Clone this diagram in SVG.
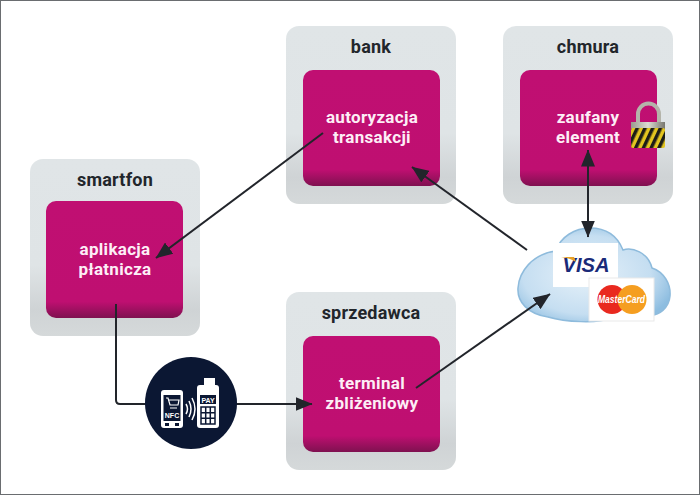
<svg xmlns="http://www.w3.org/2000/svg" width="700" height="495" viewBox="0 0 700 495">
<style>
.box{fill:url(#gb)}
.inner{fill:url(#gm)}
.t{font-family:Roboto,"Liberation Sans",sans-serif;font-weight:700;text-anchor:middle}
.h{font-size:18px;fill:#22262b;letter-spacing:.2px}
.w{font-size:17px;fill:#fdeef6;letter-spacing:.3px}
.c{fill:none;stroke:#22252b;stroke-width:2}
.ic{fill:#fff}
</style>
<defs>
<linearGradient id="gb" x1="0" y1="0" x2="0" y2="1"><stop offset="0" stop-color="#e0e5e7"/><stop offset=".6" stop-color="#dfe4e6"/><stop offset=".85" stop-color="#cfd3d5"/><stop offset="1" stop-color="#d5d9da"/></linearGradient>
<linearGradient id="gm" x1="0" y1="0" x2="0" y2="1"><stop offset="0" stop-color="#c00f72"/><stop offset=".86" stop-color="#bf0f71"/><stop offset="1" stop-color="#7f1150"/></linearGradient>
<radialGradient id="gc" cx=".45" cy=".5" r=".6"><stop offset="0" stop-color="#e6f1f9"/><stop offset=".7" stop-color="#c5def1"/><stop offset="1" stop-color="#8dbde0"/></radialGradient>
<linearGradient id="gl" x1="0" y1="0" x2="1" y2="0"><stop offset="0" stop-color="#9a9a8e"/><stop offset=".5" stop-color="#dcdcd2"/><stop offset="1" stop-color="#77776f"/></linearGradient>
<marker id="a" viewBox="0 0 17 14" refX="16.500" refY="7" markerWidth="17" markerHeight="14" markerUnits="userSpaceOnUse" orient="auto-start-reverse"><path d="M0 0L17 7L0 14z" fill="#22252b"/></marker>
<pattern id="st" width="7" height="7" patternUnits="userSpaceOnUse" patternTransform="rotate(25)"><rect width="7" height="7" fill="#e3c51f"/><rect width="3.500" height="7" fill="#1d1d18"/></pattern>
</defs>
<rect width="700" height="495" fill="#fff"/>
<rect x=".5" y=".5" width="699" height="494" fill="none" stroke="#6a6d70"/>

<g id="smartfon"><rect class="box" x="30" y="159" width="170" height="177" rx="13"/><rect class="inner" x="46" y="201" width="137" height="117" rx="10"/><text class="t h" x="115" y="186">smartfon</text><text class="t w" x="115" y="255">aplikacja</text><text class="t w" x="115" y="275">płatnicza</text></g>
<g id="bank"><rect class="box" x="286" y="26" width="170" height="178" rx="13"/><rect class="inner" x="303" y="70" width="137" height="116" rx="10"/><text class="t h" x="371" y="53">bank</text><text class="t w" x="372" y="123">autoryzacja</text><text class="t w" x="372" y="143">transakcji</text></g>
<g id="chmura"><rect class="box" x="503" y="26" width="170" height="178" rx="13"/><rect class="inner" x="520" y="70" width="137" height="116" rx="10"/><text class="t h" x="588" y="53">chmura</text><text class="t w" x="588" y="123">zaufany</text><text class="t w" x="588" y="143">element</text>
<g id="lock"><path d="M638 124v-10a10.500 10.500 0 0 1 21 0v10" fill="none" stroke="#b4b4aa" stroke-width="4"/><rect x="631" y="122" width="34" height="8" fill="url(#gl)"/><rect x="631" y="128" width="34" height="20" rx="2" fill="url(#st)"/></g></g>
<g id="sprzedawca"><rect class="box" x="286" y="292" width="170" height="178" rx="13"/><rect class="inner" x="303" y="336" width="137" height="116" rx="10"/><text class="t h" x="371" y="319">sprzedawca</text><text class="t w" x="372" y="389">terminal</text><text class="t w" x="372" y="409">zbliżeniowy</text></g>

<g id="cloud"><path d="M548 317C528 314 517 302 518 288C519 272 532 254 556 251C560 237 575 228 590 228C605 228 617 235 623 250C632 247 648 252 652 268C664 272 671 284 670 296C669 309 658 315 652 315L610 318C598 324 565 322 548 317z" fill="url(#gc)" stroke="#8ebbdc" stroke-width="1.500"/>
<g id="visa"><rect x="553" y="243" width="65" height="44" fill="#fff"/><text x="586" y="272" font-family="Liberation Sans,sans-serif" font-size="21" font-weight="700" font-style="italic" fill="#1a2a78" text-anchor="middle" textLength="47" lengthAdjust="spacingAndGlyphs">VISA</text><path d="M561 257L574 257L576 262Q570 258 561 257z" fill="#e7a128"/></g>
<g id="mastercard"><rect x="589" y="278" width="65" height="43" fill="#fff" stroke="#e9e9e9"/><circle cx="612" cy="299.500" r="14.500" fill="#e9291f"/><circle cx="632" cy="299.500" r="14.500" fill="#f59e20"/><text x="621.500" y="303" font-family="Liberation Sans,sans-serif" font-size="10" font-weight="700" font-style="italic" fill="#fff" text-anchor="middle" textLength="47" lengthAdjust="spacingAndGlyphs">MasterCard</text></g></g>

<g id="connectors">
<path class="c" d="M323 133L156 258" marker-end="url(#a)"/>
<path class="c" d="M527 250L412 167" marker-end="url(#a)"/>
<path class="c" d="M588 237V150" marker-start="url(#a)" marker-end="url(#a)"/>
<path class="c" d="M416 388L550 294" marker-end="url(#a)"/>
<path class="c" d="M116 304V400Q116 404 120 404H312" marker-end="url(#a)"/>
</g>

<g id="nfc"><circle cx="191" cy="403" r="46" fill="#0b1733"/>
<rect x="161" y="390" width="22" height="38" rx="3" class="ic"/><rect x="163.500" y="395" width="17" height="26" fill="#0b1733"/><rect x="165" y="423" width="4" height="3" fill="#0b1733"/><rect x="175" y="423" width="4" height="3" fill="#0b1733"/>
<text x="172" y="418" font-family="Liberation Sans,sans-serif" font-size="7" font-weight="700" fill="#fff" text-anchor="middle">NFC</text>
<path d="M166 398h2l2 7h8l1-5h-10M170 408h7" fill="none" stroke="#fff" stroke-width="1.200"/>
<path d="M186 404q3 5 0 10M189 401q4 8 0 16M192 398q6 11 0 22" fill="none" stroke="#fff" stroke-width="1.500"/>
<rect x="204" y="378" width="11" height="12" class="ic"/>
<rect x="197" y="385" width="22" height="43" rx="3" class="ic"/><rect x="200" y="395" width="16" height="9" fill="#0b1733"/><text x="208" y="402.500" font-family="Liberation Sans,sans-serif" font-size="7" font-weight="700" fill="#fff" text-anchor="middle">PAY</text>
<path d="M201 407h14v17h-14zM205.700 407v17M210.300 407v17M201 412.700h14M201 418.300h14" fill="none" stroke="#0b1733" stroke-width="1.500"/></g>
</svg>
